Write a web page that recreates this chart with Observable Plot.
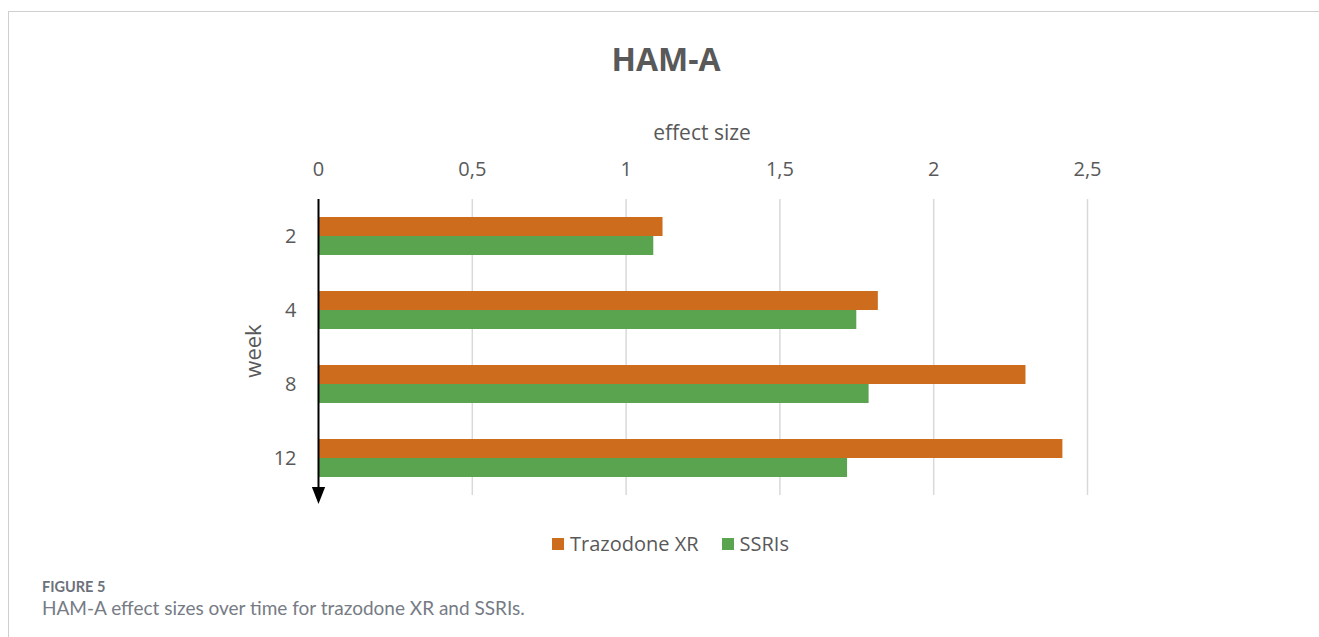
<!DOCTYPE html>
<html>
<head>
<meta charset="utf-8">
<script src="https://cdn.jsdelivr.net/npm/d3@7"></script>
<script src="https://cdn.jsdelivr.net/npm/@observablehq/plot@0.6"></script>
<style>
  html, body { margin: 0; padding: 0; background: #fff; overflow: hidden; }
  #figure { position: relative; width: 1319px; height: 637px; background: #fff; font-family: "Open Sans", sans-serif; color: #595959; }
  #figure svg { position: absolute; left: 0; top: 0; }
  .frame-top { position: absolute; left: 9px; top: 11px; width: 1310px; height: 0; border-top: 1.5px solid #cfcfcf; }
  .frame-left { position: absolute; left: 8px; top: 11px; width: 0; height: 626px; border-left: 1.5px solid #cfcfcf; }
  .centered { position: absolute; line-height: 1; white-space: nowrap; transform: translate(-50%, -50%); }
  #title { left: 666px; top: 59px; font-size: 32px; font-weight: 700; color: #595959; }
  #xlabel { left: 702px; top: 132px; font-size: 21px; color: #595959; }
  #ylabel { left: 252px; top: 351px; font-size: 22px; color: #595959; transform: translate(-50%, -50%) rotate(-90deg); }
  #legend { position: absolute; left: 552px; top: 534px; height: 20px; display: flex; align-items: center; font-size: 20px; line-height: 1; color: #595959; white-space: nowrap; }
  #legend .swatch { width: 12px; height: 12px; margin-right: 6px; }
  #legend .item { display: flex; align-items: center; margin-right: 23px; }
  #caption { position: absolute; left: 42px; top: 580px; font-family: Lato, "Open Sans", sans-serif; color: #767b85; line-height: 1; }
  #caption .fig { font-size: 14.5px; font-weight: 700; color: #6c717b; margin-bottom: 3px; }
  #caption .text { font-size: 19px; }
</style>
</head>
<body>
<div id="figure">
  <div class="frame-top"></div>
  <div class="frame-left"></div>
  <div id="title" class="centered">HAM-A</div>
  <div id="xlabel" class="centered">effect size</div>
  <div id="ylabel" class="centered">week</div>
  <div id="legend"></div>
  <div id="caption">
    <div class="fig">FIGURE 5</div>
    <div class="text">HAM-A effect sizes over time for trazodone XR and SSRIs.</div>
  </div>
</div>
<script>
// Weeks on the (downward) time axis
const weeks = ["2", "4", "8", "12"];
// Treatment series and their colours
const series = ["Trazodone XR", "SSRIs"];
const seriesColors = ["#cc6c1c", "#5ba44f"];
// Effect sizes per week
const trazodoneXR = [1.12, 1.82, 2.30, 2.42];
const ssris = [1.09, 1.75, 1.79, 1.72];
// Effect-size axis ticks (decimal comma)
const xTickValues = [0, 0.5, 1, 1.5, 2, 2.5];
const xTickLabels = ["0", "0,5", "1", "1,5", "2", "2,5"];

const rows = weeks.flatMap((week, i) => [
  {week, series: series[0], value: trazodoneXR[i]},
  {week, series: series[1], value: ssris[i]}
]);

// Downward-pointing arrow head for the time axis
const arrowHead = {
  draw(context, size) {
    const s = Math.sqrt(size / Math.PI);
    context.moveTo(-0.39 * s, -0.5 * s);
    context.lineTo(0.39 * s, -0.5 * s);
    context.lineTo(0, 0.5 * s);
    context.closePath();
  }
};

const halfBand = 19;

const chart = Plot.plot({
  width: 1319,
  height: 520,
  marginTop: 199,
  marginBottom: 25,
  marginLeft: 318,
  marginRight: 232,
  style: {fontFamily: "'Open Sans', sans-serif", fontSize: "20px", color: "#595959", background: "transparent", overflow: "visible"},
  x: {
    domain: [0, 2.5],
    axis: "top",
    ticks: xTickValues,
    tickFormat: d => xTickLabels[xTickValues.indexOf(d)],
    tickSize: 0,
    tickPadding: 24,
    label: null
  },
  y: {
    domain: weeks,
    paddingInner: 0.486,
    paddingOuter: 0.243,
    tickSize: 0,
    tickPadding: 22,
    label: null
  },
  color: {domain: series, range: seriesColors},
  marks: [
    Plot.ruleX(xTickValues.filter(v => v > 0), {stroke: "#d9d9d9", strokeWidth: 1.5}),
    Plot.barX(rows.filter(d => d.series === series[0]), {x: "value", y: "week", fill: "series", insetBottom: halfBand}),
    Plot.barX(rows.filter(d => d.series === series[1]), {x: "value", y: "week", fill: "series", insetTop: halfBand}),
    Plot.ruleX([0], {stroke: "black", strokeWidth: 2}),
    Plot.dot([0], {x: d => d, frameAnchor: "bottom", symbol: arrowHead, r: 17, fill: "black", stroke: "none"})
  ]
});

document.getElementById("figure").prepend(chart);

// Legend built from the series list
const legend = document.getElementById("legend");
series.forEach((name, i) => {
  const item = document.createElement("div");
  item.className = "item";
  const sw = document.createElement("div");
  sw.className = "swatch";
  sw.style.background = seriesColors[i];
  const label = document.createElement("span");
  label.textContent = name;
  item.append(sw, label);
  legend.append(item);
});
</script>
</body>
</html>
